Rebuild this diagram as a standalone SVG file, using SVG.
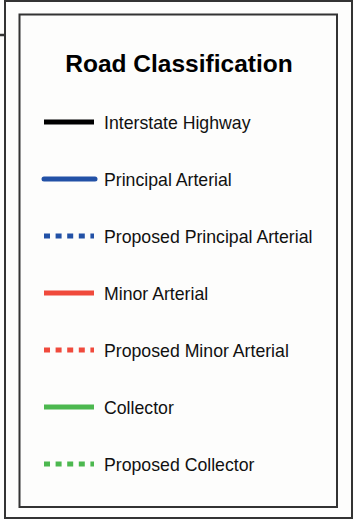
<svg xmlns="http://www.w3.org/2000/svg" width="354" height="520" viewBox="0 0 354 520">
<style>
.frame{fill:none;stroke:#333;stroke-width:2}
.lbl{font-family:"Liberation Sans",Arial,sans-serif;font-size:17.7px;fill:#111}
.title{font-family:"Liberation Sans",Arial,sans-serif;font-size:24.5px;font-weight:bold;fill:#000}
.ln{fill:none;stroke-width:5}
.dash{stroke-dasharray:6 5.6}
</style>
<rect width="354" height="520" fill="#fdfdfc"/>
<g id="frame">
<rect class="frame" x="5" y="1" width="347" height="517"/>
<line x1="0" y1="35" x2="5" y2="35" stroke="#333" stroke-width="2.5"/>
<rect class="frame" x="19.5" y="14.5" width="317.5" height="492.5"/>
</g>
<g id="title"><text class="title" x="179" y="72" text-anchor="middle">Road Classification</text></g>
<g id="connectors">
<line class="ln" x1="44" y1="122" x2="94" y2="122" stroke="#000"/>
<line class="ln" x1="44" y1="179" x2="95" y2="179" stroke="#2251a6" stroke-linecap="round"/>
<line class="ln dash" x1="44" y1="236" x2="94" y2="236" stroke="#2251a6"/>
<line class="ln" x1="44" y1="293" x2="94" y2="293" stroke="#f04a3c"/>
<line class="ln dash" x1="44" y1="350" x2="94" y2="350" stroke="#f04a3c"/>
<line class="ln" x1="44" y1="407" x2="94" y2="407" stroke="#4cb84f"/>
<line class="ln dash" x1="44" y1="464" x2="94" y2="464" stroke="#4cb84f"/>
</g>
<g id="interstate"><text class="lbl" x="104" y="128.5">Interstate Highway</text></g>
<g id="principal"><text class="lbl" x="104" y="185.5">Principal Arterial</text></g>
<g id="proposed-principal"><text class="lbl" x="104" y="242.5">Proposed Principal Arterial</text></g>
<g id="minor"><text class="lbl" x="104" y="299.5">Minor Arterial</text></g>
<g id="proposed-minor"><text class="lbl" x="104" y="356.5">Proposed Minor Arterial</text></g>
<g id="collector"><text class="lbl" x="104" y="413.5">Collector</text></g>
<g id="proposed-collector"><text class="lbl" x="104" y="470.5">Proposed Collector</text></g>
</svg>
